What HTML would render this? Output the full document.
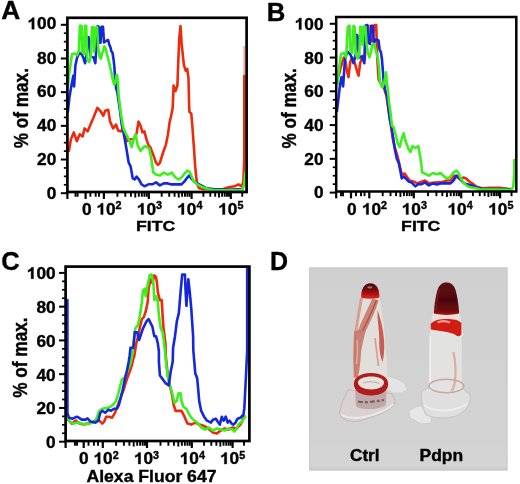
<!DOCTYPE html>
<html><head><meta charset="utf-8"><style>
html,body{margin:0;padding:0;background:#fff;}
svg{display:block;font-family:"Liberation Sans", sans-serif;}
</style></head><body>
<svg width="520" height="484" viewBox="0 0 520 484">
<defs><filter id="gblur" x="0" y="0" width="100%" height="100%"><feGaussianBlur stdDeviation="0.4"/></filter></defs>
<g filter="url(#gblur)">
<rect x="0" y="0" width="520" height="484" fill="#fff"/>
<polyline points="68.9,151.0 70.9,139.2 73.8,132.4 76.8,141.2 79.7,134.3 82.7,136.3 84.6,128.4 87.6,131.4 90.5,124.5 93.5,117.6 97.4,107.8 100.3,110.8 103.3,115.7 105.2,110.8 108.2,109.8 110.1,121.6 113.1,128.4 116.0,124.5 118.0,130.4 120.9,131.4 122.9,128.4 124.8,133.3 126.8,141.2 130.7,139.2 133.6,139.2 136.6,133.3 138.5,121.6 140.5,125.5 142.5,132.4 144.4,131.4 146.4,139.2 148.4,145.1 150.3,147.1 153.3,154.9 156.0,162.7 158.0,164.8 159.9,162.8 162.9,153.0 165.8,145.1 167.8,135.3 169.7,121.6 170.7,117.7 172.7,107.8 173.6,85.6 175.5,91.2 177.4,85.6 178.3,61.4 179.2,39.2 180.5,26.1 181.6,42.9 182.9,55.9 183.9,65.2 185.7,70.7 187.2,68.9 188.5,78.2 189.1,105.0 189.4,111.8 191.3,113.7 192.3,125.5 193.3,139.2 194.3,153.0 195.2,166.7 196.2,176.5 197.2,184.4 199.2,188.3 203.1,189.3 222.7,189.3 228.6,187.3 234.5,186.3 238.4,184.4 241.4,186.3 243.3,182.4 244.3,158.9 244.3,76.0" fill="none" stroke="#ee2a10" stroke-width="2.6" stroke-linejoin="round" stroke-linecap="round"/>
<polyline points="67.9,111.3 69.4,97.4 71.8,83.4 73.3,75.7 74.1,86.5 75.4,65.5 77.1,57.5 79.4,53.0 81.6,54.1 83.3,57.5 85.0,63.2 86.8,54.1 88.5,37.0 89.6,42.7 90.7,56.4 93.6,57.5 95.3,63.2 96.4,48.4 97.5,26.3 98.7,26.8 99.8,42.7 100.5,42.7 101.5,26.8 103.0,26.8 104.0,42.4 106.0,41.0 108.1,40.0 109.3,44.9 110.5,47.4 111.2,51.1 112.4,52.3 113.6,59.8 114.3,66.0 114.9,74.7 115.5,80.8 116.1,88.3 117.3,92.0 119.7,108.5 121.8,125.0 122.9,129.4 124.8,139.2 126.8,151.0 128.7,162.7 130.7,166.7 132.7,178.4 134.6,179.4 136.6,176.5 139.5,180.4 141.5,184.3 144.4,186.3 148.4,184.3 152.3,184.3 156.0,182.4 159.9,185.4 163.8,183.4 167.8,183.4 171.7,184.4 175.6,184.4 181.5,184.4 184.5,181.4 187.4,177.5 189.4,175.5 191.3,178.5 195.2,182.4 199.2,184.4 203.1,186.3 207.0,188.3 214.9,189.3 226.6,189.9 238.4,189.3 242.3,189.9" fill="none" stroke="#1428dc" stroke-width="2.6" stroke-linejoin="round" stroke-linecap="round"/>
<polyline points="67.9,86.5 69.1,74.5 72.0,54.0 74.8,53.5 77.1,55.2 78.8,50.7 79.9,25.7 81.6,25.7 82.2,51.8 83.9,54.1 85.0,25.7 86.2,25.7 87.3,59.8 89.0,62.0 90.7,57.5 91.9,27.4 93.6,27.4 94.1,51.8 95.3,28.0 97.0,26.8 98.1,46.1 99.8,57.5 101.0,58.6 102.1,53.0 103.1,51.1 104.3,46.2 105.6,48.6 106.8,53.6 108.1,58.5 109.3,63.5 110.5,68.5 111.8,74.7 113.0,80.8 114.3,84.6 115.5,80.8 116.7,74.7 117.3,75.9 118.0,84.6 118.7,96.1 120.7,112.6 122.8,125.0 123.8,129.4 126.8,135.3 129.7,141.2 131.7,147.1 133.6,139.2 135.6,134.3 137.6,145.1 140.5,151.0 143.5,147.1 146.4,146.1 149.3,149.0 151.3,158.8 153.3,172.5 156.0,174.5 159.9,175.5 163.8,172.6 167.8,174.6 171.7,172.6 175.6,177.5 178.6,179.5 181.5,177.5 184.5,173.6 187.4,170.6 189.4,171.6 191.3,175.5 193.3,180.5 197.2,184.4 203.1,187.3 209.0,189.3 214.9,190.3 242.3,190.3 244.3,184.4 245.3,172.6" fill="none" stroke="#3cf01e" stroke-width="2.6" stroke-linejoin="round" stroke-linecap="round"/>
<rect x="67.4" y="17.8" width="179.2" height="174.2" fill="none" stroke="#000" stroke-width="2.7"/>
<line x1="60.85" y1="24.80" x2="67.40" y2="24.80" stroke="#000" stroke-width="2"/>
<line x1="63.85" y1="33.22" x2="67.40" y2="33.22" stroke="#000" stroke-width="1.7"/>
<line x1="63.85" y1="41.64" x2="67.40" y2="41.64" stroke="#000" stroke-width="1.7"/>
<line x1="63.85" y1="50.06" x2="67.40" y2="50.06" stroke="#000" stroke-width="1.7"/>
<line x1="60.85" y1="58.48" x2="67.40" y2="58.48" stroke="#000" stroke-width="2"/>
<line x1="63.85" y1="66.90" x2="67.40" y2="66.90" stroke="#000" stroke-width="1.7"/>
<line x1="63.85" y1="75.32" x2="67.40" y2="75.32" stroke="#000" stroke-width="1.7"/>
<line x1="63.85" y1="83.74" x2="67.40" y2="83.74" stroke="#000" stroke-width="1.7"/>
<line x1="60.85" y1="92.16" x2="67.40" y2="92.16" stroke="#000" stroke-width="2"/>
<line x1="63.85" y1="100.58" x2="67.40" y2="100.58" stroke="#000" stroke-width="1.7"/>
<line x1="63.85" y1="109.00" x2="67.40" y2="109.00" stroke="#000" stroke-width="1.7"/>
<line x1="63.85" y1="117.42" x2="67.40" y2="117.42" stroke="#000" stroke-width="1.7"/>
<line x1="60.85" y1="125.84" x2="67.40" y2="125.84" stroke="#000" stroke-width="2"/>
<line x1="63.85" y1="134.26" x2="67.40" y2="134.26" stroke="#000" stroke-width="1.7"/>
<line x1="63.85" y1="142.68" x2="67.40" y2="142.68" stroke="#000" stroke-width="1.7"/>
<line x1="63.85" y1="151.10" x2="67.40" y2="151.10" stroke="#000" stroke-width="1.7"/>
<line x1="60.85" y1="159.52" x2="67.40" y2="159.52" stroke="#000" stroke-width="2"/>
<line x1="63.85" y1="167.94" x2="67.40" y2="167.94" stroke="#000" stroke-width="1.7"/>
<line x1="63.85" y1="176.36" x2="67.40" y2="176.36" stroke="#000" stroke-width="1.7"/>
<line x1="63.85" y1="184.78" x2="67.40" y2="184.78" stroke="#000" stroke-width="1.7"/>
<line x1="60.85" y1="193.20" x2="67.40" y2="193.20" stroke="#000" stroke-width="2"/>
<line x1="67.40" y1="192.00" x2="67.40" y2="198.95" stroke="#000" stroke-width="2.2"/>
<line x1="85.60" y1="192.00" x2="85.60" y2="198.95" stroke="#000" stroke-width="2.2"/>
<line x1="103.90" y1="192.00" x2="103.90" y2="198.95" stroke="#000" stroke-width="2.2"/>
<line x1="148.80" y1="192.00" x2="148.80" y2="198.95" stroke="#000" stroke-width="2.2"/>
<line x1="191.60" y1="192.00" x2="191.60" y2="198.95" stroke="#000" stroke-width="2.2"/>
<line x1="230.80" y1="192.00" x2="230.80" y2="198.95" stroke="#000" stroke-width="2.2"/>
<line x1="75.50" y1="192.00" x2="75.50" y2="196.75" stroke="#000" stroke-width="1.9"/>
<line x1="77.60" y1="192.00" x2="77.60" y2="196.75" stroke="#000" stroke-width="1.9"/>
<line x1="90.40" y1="192.00" x2="90.40" y2="196.75" stroke="#000" stroke-width="1.9"/>
<line x1="95.70" y1="192.00" x2="95.70" y2="196.75" stroke="#000" stroke-width="1.9"/>
<line x1="99.00" y1="192.00" x2="99.00" y2="196.75" stroke="#000" stroke-width="1.9"/>
<line x1="117.42" y1="192.00" x2="117.42" y2="196.75" stroke="#000" stroke-width="1.9"/>
<line x1="125.32" y1="192.00" x2="125.32" y2="196.75" stroke="#000" stroke-width="1.9"/>
<line x1="130.93" y1="192.00" x2="130.93" y2="196.75" stroke="#000" stroke-width="1.9"/>
<line x1="135.28" y1="192.00" x2="135.28" y2="197.55" stroke="#000" stroke-width="1.9"/>
<line x1="138.84" y1="192.00" x2="138.84" y2="196.75" stroke="#000" stroke-width="1.9"/>
<line x1="141.84" y1="192.00" x2="141.84" y2="196.75" stroke="#000" stroke-width="1.9"/>
<line x1="144.45" y1="192.00" x2="144.45" y2="196.75" stroke="#000" stroke-width="1.9"/>
<line x1="146.75" y1="192.00" x2="146.75" y2="196.75" stroke="#000" stroke-width="1.9"/>
<line x1="161.68" y1="192.00" x2="161.68" y2="196.75" stroke="#000" stroke-width="1.9"/>
<line x1="169.22" y1="192.00" x2="169.22" y2="196.75" stroke="#000" stroke-width="1.9"/>
<line x1="174.57" y1="192.00" x2="174.57" y2="196.75" stroke="#000" stroke-width="1.9"/>
<line x1="178.72" y1="192.00" x2="178.72" y2="197.55" stroke="#000" stroke-width="1.9"/>
<line x1="182.10" y1="192.00" x2="182.10" y2="196.75" stroke="#000" stroke-width="1.9"/>
<line x1="184.97" y1="192.00" x2="184.97" y2="196.75" stroke="#000" stroke-width="1.9"/>
<line x1="187.45" y1="192.00" x2="187.45" y2="196.75" stroke="#000" stroke-width="1.9"/>
<line x1="189.64" y1="192.00" x2="189.64" y2="196.75" stroke="#000" stroke-width="1.9"/>
<line x1="203.40" y1="192.00" x2="203.40" y2="196.75" stroke="#000" stroke-width="1.9"/>
<line x1="210.30" y1="192.00" x2="210.30" y2="196.75" stroke="#000" stroke-width="1.9"/>
<line x1="215.20" y1="192.00" x2="215.20" y2="196.75" stroke="#000" stroke-width="1.9"/>
<line x1="219.00" y1="192.00" x2="219.00" y2="197.55" stroke="#000" stroke-width="1.9"/>
<line x1="222.10" y1="192.00" x2="222.10" y2="196.75" stroke="#000" stroke-width="1.9"/>
<line x1="224.73" y1="192.00" x2="224.73" y2="196.75" stroke="#000" stroke-width="1.9"/>
<line x1="227.00" y1="192.00" x2="227.00" y2="196.75" stroke="#000" stroke-width="1.9"/>
<line x1="229.01" y1="192.00" x2="229.01" y2="196.75" stroke="#000" stroke-width="1.9"/>
<line x1="242.24" y1="192.00" x2="242.24" y2="196.75" stroke="#000" stroke-width="1.9"/>
<g transform="translate(56.30,29.13) scale(1.080,1)">
<text font-size="16" font-weight="bold" text-anchor="end" stroke="#000" stroke-width="0.35">00</text>
<path d="M797,0 L516,0 L516,1055 C413,959 292,888 153,842 L153,1096 C226,1120 306,1165 392,1232 C478,1299 537,1377 569,1466 L797,1466 Z" transform="translate(-26.695,0.000) scale(0.007812,-0.007812)" fill="#000" stroke="#000" stroke-width="44.80"/>
</g>
<text transform="translate(56.30,63.51) scale(1.080,1)" font-size="16" font-weight="bold" text-anchor="end" fill="#000" stroke="#000" stroke-width="0.35" >80</text>
<text transform="translate(56.30,97.39) scale(1.080,1)" font-size="16" font-weight="bold" text-anchor="end" fill="#000" stroke="#000" stroke-width="0.35" >60</text>
<text transform="translate(56.30,131.37) scale(1.080,1)" font-size="16" font-weight="bold" text-anchor="end" fill="#000" stroke="#000" stroke-width="0.35" >40</text>
<text transform="translate(56.30,164.85) scale(1.080,1)" font-size="16" font-weight="bold" text-anchor="end" fill="#000" stroke="#000" stroke-width="0.35" >20</text>
<text transform="translate(56.30,198.93) scale(1.080,1)" font-size="16" font-weight="bold" text-anchor="end" fill="#000" stroke="#000" stroke-width="0.35" >0</text>
<text transform="translate(82.00,214.60) scale(1.080,1)" font-size="16" font-weight="bold" text-anchor="start" fill="#000" stroke="#000" stroke-width="0.35" >0</text>
<g transform="translate(96.40,214.60) scale(1.080,1)">
<text x="8.898" font-size="16" font-weight="bold" stroke="#000" stroke-width="0.35">0<tspan font-size="10" dy="-5.2">2</tspan></text>
<path d="M797,0 L516,0 L516,1055 C413,959 292,888 153,842 L153,1096 C226,1120 306,1165 392,1232 C478,1299 537,1377 569,1466 L797,1466 Z" transform="translate(0.000,0.000) scale(0.007812,-0.007812)" fill="#000" stroke="#000" stroke-width="44.80"/>
</g>
<g transform="translate(136.80,214.60) scale(1.080,1)">
<text x="8.898" font-size="16" font-weight="bold" stroke="#000" stroke-width="0.35">0<tspan font-size="10" dy="-5.2">3</tspan></text>
<path d="M797,0 L516,0 L516,1055 C413,959 292,888 153,842 L153,1096 C226,1120 306,1165 392,1232 C478,1299 537,1377 569,1466 L797,1466 Z" transform="translate(0.000,0.000) scale(0.007812,-0.007812)" fill="#000" stroke="#000" stroke-width="44.80"/>
</g>
<g transform="translate(177.20,214.60) scale(1.080,1)">
<text x="8.898" font-size="16" font-weight="bold" stroke="#000" stroke-width="0.35">0<tspan font-size="10" dy="-5.2">4</tspan></text>
<path d="M797,0 L516,0 L516,1055 C413,959 292,888 153,842 L153,1096 C226,1120 306,1165 392,1232 C478,1299 537,1377 569,1466 L797,1466 Z" transform="translate(0.000,0.000) scale(0.007812,-0.007812)" fill="#000" stroke="#000" stroke-width="44.80"/>
</g>
<g transform="translate(218.20,214.60) scale(1.080,1)">
<text x="8.898" font-size="16" font-weight="bold" stroke="#000" stroke-width="0.35">0<tspan font-size="10" dy="-5.2">5</tspan></text>
<path d="M797,0 L516,0 L516,1055 C413,959 292,888 153,842 L153,1096 C226,1120 306,1165 392,1232 C478,1299 537,1377 569,1466 L797,1466 Z" transform="translate(0.000,0.000) scale(0.007812,-0.007812)" fill="#000" stroke="#000" stroke-width="44.80"/>
</g>
<text transform="translate(136.00,231.40) scale(1.140,1)" font-size="15.5" font-weight="bold" text-anchor="start" fill="#000" stroke="#000" stroke-width="0.35" >FITC</text>
<text transform="translate(27.50,148.30) rotate(-90) scale(1,1.130)" font-size="17.2" font-weight="bold" stroke="#000" stroke-width="0.35">% of max.</text>
<polyline points="338.7,76.0 340.4,69.0 342.1,63.2 343.8,57.5 345.5,62.0 347.0,71.0 348.5,77.2 350.1,63.0 351.8,57.5 353.5,59.8 355.2,64.3 357.0,71.0 358.6,75.7 360.1,63.3 361.7,58.6 362.9,55.9 364.8,59.6 366.5,25.7 368.3,25.7 368.8,42.7 370.5,40.5 372.2,41.0 374.5,25.1 376.2,25.1 376.8,42.7 377.3,58.6 378.0,70.0 378.7,79.8 381.0,84.0 384.0,88.0 386.5,96.0 388.5,110.0 390.5,122.0 392.8,139.2 394.8,147.1 397.7,156.9 401.7,174.5 404.6,173.5 409.5,180.4 413.4,181.4 417.4,183.3 425.0,180.5 428.9,183.4 436.8,182.4 442.7,182.0 446.6,180.5 450.5,180.5 454.4,175.6 457.4,177.5 460.3,179.5 463.3,177.5 466.2,178.5 469.2,181.5 472.1,183.4 476.0,186.4 481.9,188.3 489.8,187.9 499.6,187.9 511.4,189.3" fill="none" stroke="#ee2a10" stroke-width="2.6" stroke-linejoin="round" stroke-linecap="round"/>
<polyline points="336.9,111.3 338.4,98.9 340.0,85.0 341.5,77.2 343.1,86.5 344.6,64.8 345.5,56.4 347.8,51.8 350.1,54.1 351.8,57.5 353.5,63.2 355.8,54.1 356.9,34.8 358.0,37.0 359.2,57.5 362.0,56.4 364.3,63.2 365.4,25.7 367.1,25.1 368.3,42.7 370.0,43.9 371.1,25.7 372.8,25.7 373.9,42.7 376.2,39.3 378.5,40.5 379.6,49.5 380.8,51.8 381.9,58.6 383.0,72.4 383.6,81.0 384.9,88.5 385.5,91.0 387.3,97.2 388.6,109.6 389.8,119.5 391.9,129.4 392.8,135.3 394.8,149.0 396.8,158.8 398.7,162.7 400.7,172.5 401.7,178.4 403.6,176.5 405.6,178.4 408.5,181.4 411.5,182.4 413.4,184.3 415.4,186.3 418.3,184.3 421.3,184.3 425.0,182.4 428.9,185.4 432.9,183.4 436.8,184.4 440.7,183.4 444.6,183.4 450.5,183.4 453.5,180.5 456.4,175.6 458.4,176.5 461.3,180.5 464.3,183.4 468.2,184.4 472.1,185.4 476.0,187.3 481.9,188.7 511.4,189.3" fill="none" stroke="#1428dc" stroke-width="2.6" stroke-linejoin="round" stroke-linecap="round"/>
<polyline points="337.7,83.4 338.7,71.1 341.0,54.1 343.8,53.0 346.1,57.5 347.8,26.8 349.5,25.7 350.6,51.8 352.3,53.0 353.5,25.7 354.6,26.8 355.8,54.1 357.5,58.6 359.2,55.2 360.3,26.8 361.4,26.8 362.6,45.0 363.7,26.8 365.4,26.8 366.5,42.7 367.7,51.8 369.4,57.5 371.1,51.8 372.2,45.0 373.9,43.9 375.6,49.5 376.8,54.1 377.9,58.6 379.0,66.6 379.9,82.3 382.4,87.3 384.3,82.3 386.1,72.4 386.7,81.0 388.0,91.0 389.2,103.4 390.4,112.0 391.9,125.5 393.8,127.5 395.8,135.3 397.7,143.1 399.7,147.1 401.7,139.2 403.6,133.3 405.6,141.2 408.5,149.0 410.5,152.0 412.5,146.1 415.4,148.0 418.3,146.1 420.3,156.9 422.3,172.5 425.0,173.6 428.9,175.6 432.9,173.0 436.8,174.2 440.7,173.0 444.6,176.9 447.6,178.5 450.5,176.5 453.5,172.6 456.4,170.7 458.4,172.6 460.3,177.5 463.3,182.4 466.2,185.4 470.1,187.3 476.0,188.3 480.0,189.3 511.4,189.9 513.3,186.4 514.3,172.6 514.3,160.0" fill="none" stroke="#3cf01e" stroke-width="2.6" stroke-linejoin="round" stroke-linecap="round"/>
<rect x="336.2" y="17.0" width="180.09999999999997" height="174.5" fill="none" stroke="#000" stroke-width="2.5"/>
<line x1="329.75" y1="23.80" x2="336.20" y2="23.80" stroke="#000" stroke-width="2"/>
<line x1="332.75" y1="32.24" x2="336.20" y2="32.24" stroke="#000" stroke-width="1.7"/>
<line x1="332.75" y1="40.68" x2="336.20" y2="40.68" stroke="#000" stroke-width="1.7"/>
<line x1="332.75" y1="49.12" x2="336.20" y2="49.12" stroke="#000" stroke-width="1.7"/>
<line x1="329.75" y1="57.56" x2="336.20" y2="57.56" stroke="#000" stroke-width="2"/>
<line x1="332.75" y1="66.00" x2="336.20" y2="66.00" stroke="#000" stroke-width="1.7"/>
<line x1="332.75" y1="74.44" x2="336.20" y2="74.44" stroke="#000" stroke-width="1.7"/>
<line x1="332.75" y1="82.88" x2="336.20" y2="82.88" stroke="#000" stroke-width="1.7"/>
<line x1="329.75" y1="91.32" x2="336.20" y2="91.32" stroke="#000" stroke-width="2"/>
<line x1="332.75" y1="99.76" x2="336.20" y2="99.76" stroke="#000" stroke-width="1.7"/>
<line x1="332.75" y1="108.20" x2="336.20" y2="108.20" stroke="#000" stroke-width="1.7"/>
<line x1="332.75" y1="116.64" x2="336.20" y2="116.64" stroke="#000" stroke-width="1.7"/>
<line x1="329.75" y1="125.08" x2="336.20" y2="125.08" stroke="#000" stroke-width="2"/>
<line x1="332.75" y1="133.52" x2="336.20" y2="133.52" stroke="#000" stroke-width="1.7"/>
<line x1="332.75" y1="141.96" x2="336.20" y2="141.96" stroke="#000" stroke-width="1.7"/>
<line x1="332.75" y1="150.40" x2="336.20" y2="150.40" stroke="#000" stroke-width="1.7"/>
<line x1="329.75" y1="158.84" x2="336.20" y2="158.84" stroke="#000" stroke-width="2"/>
<line x1="332.75" y1="167.28" x2="336.20" y2="167.28" stroke="#000" stroke-width="1.7"/>
<line x1="332.75" y1="175.72" x2="336.20" y2="175.72" stroke="#000" stroke-width="1.7"/>
<line x1="332.75" y1="184.16" x2="336.20" y2="184.16" stroke="#000" stroke-width="1.7"/>
<line x1="329.75" y1="192.60" x2="336.20" y2="192.60" stroke="#000" stroke-width="2"/>
<line x1="336.20" y1="191.50" x2="336.20" y2="198.35" stroke="#000" stroke-width="2.2"/>
<line x1="351.00" y1="191.50" x2="351.00" y2="198.35" stroke="#000" stroke-width="2.2"/>
<line x1="369.30" y1="191.50" x2="369.30" y2="198.35" stroke="#000" stroke-width="2.2"/>
<line x1="413.80" y1="191.50" x2="413.80" y2="198.35" stroke="#000" stroke-width="2.2"/>
<line x1="461.20" y1="191.50" x2="461.20" y2="198.35" stroke="#000" stroke-width="2.2"/>
<line x1="500.10" y1="191.50" x2="500.10" y2="198.35" stroke="#000" stroke-width="2.2"/>
<line x1="341.00" y1="191.50" x2="341.00" y2="196.15" stroke="#000" stroke-width="1.9"/>
<line x1="343.00" y1="191.50" x2="343.00" y2="196.15" stroke="#000" stroke-width="1.9"/>
<line x1="356.00" y1="191.50" x2="356.00" y2="196.15" stroke="#000" stroke-width="1.9"/>
<line x1="361.00" y1="191.50" x2="361.00" y2="196.15" stroke="#000" stroke-width="1.9"/>
<line x1="364.50" y1="191.50" x2="364.50" y2="196.15" stroke="#000" stroke-width="1.9"/>
<line x1="382.70" y1="191.50" x2="382.70" y2="196.15" stroke="#000" stroke-width="1.9"/>
<line x1="390.53" y1="191.50" x2="390.53" y2="196.15" stroke="#000" stroke-width="1.9"/>
<line x1="396.09" y1="191.50" x2="396.09" y2="196.15" stroke="#000" stroke-width="1.9"/>
<line x1="400.40" y1="191.50" x2="400.40" y2="196.95" stroke="#000" stroke-width="1.9"/>
<line x1="403.93" y1="191.50" x2="403.93" y2="196.15" stroke="#000" stroke-width="1.9"/>
<line x1="406.91" y1="191.50" x2="406.91" y2="196.15" stroke="#000" stroke-width="1.9"/>
<line x1="409.49" y1="191.50" x2="409.49" y2="196.15" stroke="#000" stroke-width="1.9"/>
<line x1="411.76" y1="191.50" x2="411.76" y2="196.15" stroke="#000" stroke-width="1.9"/>
<line x1="428.07" y1="191.50" x2="428.07" y2="196.15" stroke="#000" stroke-width="1.9"/>
<line x1="436.42" y1="191.50" x2="436.42" y2="196.15" stroke="#000" stroke-width="1.9"/>
<line x1="442.34" y1="191.50" x2="442.34" y2="196.15" stroke="#000" stroke-width="1.9"/>
<line x1="446.93" y1="191.50" x2="446.93" y2="196.95" stroke="#000" stroke-width="1.9"/>
<line x1="450.68" y1="191.50" x2="450.68" y2="196.15" stroke="#000" stroke-width="1.9"/>
<line x1="453.86" y1="191.50" x2="453.86" y2="196.15" stroke="#000" stroke-width="1.9"/>
<line x1="456.61" y1="191.50" x2="456.61" y2="196.15" stroke="#000" stroke-width="1.9"/>
<line x1="459.03" y1="191.50" x2="459.03" y2="196.15" stroke="#000" stroke-width="1.9"/>
<line x1="472.91" y1="191.50" x2="472.91" y2="196.15" stroke="#000" stroke-width="1.9"/>
<line x1="479.76" y1="191.50" x2="479.76" y2="196.15" stroke="#000" stroke-width="1.9"/>
<line x1="484.62" y1="191.50" x2="484.62" y2="196.15" stroke="#000" stroke-width="1.9"/>
<line x1="488.39" y1="191.50" x2="488.39" y2="196.95" stroke="#000" stroke-width="1.9"/>
<line x1="491.47" y1="191.50" x2="491.47" y2="196.15" stroke="#000" stroke-width="1.9"/>
<line x1="494.07" y1="191.50" x2="494.07" y2="196.15" stroke="#000" stroke-width="1.9"/>
<line x1="496.33" y1="191.50" x2="496.33" y2="196.15" stroke="#000" stroke-width="1.9"/>
<line x1="498.32" y1="191.50" x2="498.32" y2="196.15" stroke="#000" stroke-width="1.9"/>
<line x1="511.54" y1="191.50" x2="511.54" y2="196.15" stroke="#000" stroke-width="1.9"/>
<g transform="translate(323.50,29.53) scale(1.080,1)">
<text font-size="16" font-weight="bold" text-anchor="end" stroke="#000" stroke-width="0.35">00</text>
<path d="M797,0 L516,0 L516,1055 C413,959 292,888 153,842 L153,1096 C226,1120 306,1165 392,1232 C478,1299 537,1377 569,1466 L797,1466 Z" transform="translate(-26.695,0.000) scale(0.007812,-0.007812)" fill="#000" stroke="#000" stroke-width="44.80"/>
</g>
<text transform="translate(323.50,63.79) scale(1.080,1)" font-size="16" font-weight="bold" text-anchor="end" fill="#000" stroke="#000" stroke-width="0.35" >80</text>
<text transform="translate(323.50,97.05) scale(1.080,1)" font-size="16" font-weight="bold" text-anchor="end" fill="#000" stroke="#000" stroke-width="0.35" >60</text>
<text transform="translate(323.50,130.81) scale(1.080,1)" font-size="16" font-weight="bold" text-anchor="end" fill="#000" stroke="#000" stroke-width="0.35" >40</text>
<text transform="translate(323.50,164.57) scale(1.080,1)" font-size="16" font-weight="bold" text-anchor="end" fill="#000" stroke="#000" stroke-width="0.35" >20</text>
<text transform="translate(323.50,198.33) scale(1.080,1)" font-size="16" font-weight="bold" text-anchor="end" fill="#000" stroke="#000" stroke-width="0.35" >0</text>
<text transform="translate(347.10,214.60) scale(1.080,1)" font-size="16" font-weight="bold" text-anchor="start" fill="#000" stroke="#000" stroke-width="0.35" >0</text>
<g transform="translate(361.90,214.60) scale(1.080,1)">
<text x="8.898" font-size="16" font-weight="bold" stroke="#000" stroke-width="0.35">0<tspan font-size="10" dy="-5.2">2</tspan></text>
<path d="M797,0 L516,0 L516,1055 C413,959 292,888 153,842 L153,1096 C226,1120 306,1165 392,1232 C478,1299 537,1377 569,1466 L797,1466 Z" transform="translate(0.000,0.000) scale(0.007812,-0.007812)" fill="#000" stroke="#000" stroke-width="44.80"/>
</g>
<g transform="translate(401.70,214.60) scale(1.080,1)">
<text x="8.898" font-size="16" font-weight="bold" stroke="#000" stroke-width="0.35">0<tspan font-size="10" dy="-5.2">3</tspan></text>
<path d="M797,0 L516,0 L516,1055 C413,959 292,888 153,842 L153,1096 C226,1120 306,1165 392,1232 C478,1299 537,1377 569,1466 L797,1466 Z" transform="translate(0.000,0.000) scale(0.007812,-0.007812)" fill="#000" stroke="#000" stroke-width="44.80"/>
</g>
<g transform="translate(447.50,214.60) scale(1.080,1)">
<text x="8.898" font-size="16" font-weight="bold" stroke="#000" stroke-width="0.35">0<tspan font-size="10" dy="-5.2">4</tspan></text>
<path d="M797,0 L516,0 L516,1055 C413,959 292,888 153,842 L153,1096 C226,1120 306,1165 392,1232 C478,1299 537,1377 569,1466 L797,1466 Z" transform="translate(0.000,0.000) scale(0.007812,-0.007812)" fill="#000" stroke="#000" stroke-width="44.80"/>
</g>
<g transform="translate(488.20,214.60) scale(1.080,1)">
<text x="8.898" font-size="16" font-weight="bold" stroke="#000" stroke-width="0.35">0<tspan font-size="10" dy="-5.2">5</tspan></text>
<path d="M797,0 L516,0 L516,1055 C413,959 292,888 153,842 L153,1096 C226,1120 306,1165 392,1232 C478,1299 537,1377 569,1466 L797,1466 Z" transform="translate(0.000,0.000) scale(0.007812,-0.007812)" fill="#000" stroke="#000" stroke-width="44.80"/>
</g>
<text transform="translate(401.10,231.40) scale(1.140,1)" font-size="15.5" font-weight="bold" text-anchor="start" fill="#000" stroke="#000" stroke-width="0.35" >FITC</text>
<text transform="translate(296.20,148.50) rotate(-90) scale(1,1.130)" font-size="17.2" font-weight="bold" stroke="#000" stroke-width="0.35">% of max.</text>
<polyline points="66.9,418.7 71.8,423.6 75.8,420.6 79.7,423.6 83.6,424.5 87.5,423.6 91.5,422.6 95.4,420.6 99.3,420.6 102.3,423.6 104.2,421.6 106.2,416.7 109.1,416.7 112.1,417.7 115.0,412.8 117.9,404.9 120.9,397.1 123.8,389.2 126.8,379.4 129.7,371.6 131.7,365.7 133.6,357.8 134.3,356.0 136.2,343.8 138.1,336.2 140.0,326.7 141.9,319.1 143.8,317.2 145.7,311.5 147.7,302.0 148.6,288.7 150.5,279.2 152.4,283.0 154.3,275.4 156.0,277.0 157.0,283.0 157.9,292.5 159.8,300.1 161.7,300.1 162.7,317.2 163.6,328.6 165.5,343.8 165.8,356.0 167.8,375.5 169.7,385.3 171.7,393.2 173.7,405.0 175.6,410.9 181.5,410.9 184.5,416.7 187.4,423.6 191.3,424.6 195.3,422.6 199.2,424.6 203.1,425.6 207.0,427.5 212.9,432.4 216.9,433.4 220.8,430.5 224.7,428.5 228.6,429.5 232.6,427.5 236.5,428.5 240.4,424.6 244.3,416.7" fill="none" stroke="#ee2a10" stroke-width="2.6" stroke-linejoin="round" stroke-linecap="round"/>
<polyline points="66.9,413.0 66.9,416.7 69.9,421.6 73.8,423.6 77.7,422.6 81.7,423.6 85.6,424.1 89.5,423.6 93.4,422.6 96.4,418.7 99.3,410.8 102.3,408.8 106.2,407.9 110.1,406.9 113.0,404.9 116.0,401.0 117.9,395.1 119.9,387.3 121.9,379.4 124.8,377.5 126.8,371.6 129.7,365.7 131.7,357.8 133.4,343.8 135.3,328.6 138.1,324.8 140.0,315.3 141.9,302.0 142.9,290.6 144.8,288.7 145.7,296.3 147.7,284.9 149.6,275.4 151.5,274.5 153.4,283.0 154.3,300.0 156.0,296.3 157.9,302.0 158.9,315.3 160.8,328.6 162.7,332.4 164.6,347.7 166.8,369.6 168.8,383.4 170.7,387.3 172.7,395.2 174.6,403.0 176.6,401.0 178.6,393.2 180.5,393.2 181.5,401.0 183.5,406.9 186.4,408.9 188.4,412.8 191.3,417.7 193.3,419.7 196.2,421.7 198.2,423.6 201.2,427.5 205.1,429.5 209.0,427.5 212.9,430.5 216.9,428.5 220.8,429.5 224.7,430.5 228.6,428.5 232.6,429.5 234.5,431.5 236.5,428.5 238.4,424.6 242.4,420.7 245.3,416.7" fill="none" stroke="#3cf01e" stroke-width="2.6" stroke-linejoin="round" stroke-linecap="round"/>
<polyline points="67.4,300.0 67.4,412.8 68.9,417.7 72.8,418.7 76.8,416.7 78.7,417.7 81.7,419.6 85.6,419.6 87.5,418.3 90.5,421.6 95.4,422.6 98.3,420.6 100.3,412.8 102.3,410.8 105.2,412.8 108.1,409.8 111.1,410.8 114.0,408.8 117.0,408.8 118.9,404.9 120.9,397.1 122.8,389.2 124.8,379.4 126.8,371.6 128.7,361.8 129.6,356.0 130.5,347.7 133.4,347.7 134.7,332.4 137.2,332.4 139.1,340.0 141.0,334.3 142.9,328.6 144.8,324.8 146.7,321.0 148.6,319.1 150.5,322.9 152.4,326.7 154.3,336.2 156.0,336.2 157.0,340.0 157.9,343.8 158.9,351.5 158.9,361.8 159.9,375.5 162.9,379.4 165.8,383.4 168.8,385.3 170.7,371.6 172.7,361.8 173.1,347.7 175.0,336.2 176.9,321.0 178.8,313.4 180.7,290.6 182.2,274.5 184.9,274.5 185.5,288.7 186.4,305.8 187.4,290.6 188.3,279.2 189.8,292.5 191.2,307.7 192.1,321.0 193.1,336.2 193.3,350.0 194.3,361.8 195.3,373.6 196.2,375.5 197.2,378.5 198.2,389.3 199.2,401.0 201.2,410.9 204.1,416.7 207.0,420.7 211.0,422.6 212.9,419.7 215.9,418.7 217.8,421.7 219.8,424.6 221.8,416.7 223.7,420.7 225.7,416.7 227.7,422.6 229.6,420.7 231.6,423.6 233.5,424.6 235.5,422.6 237.5,418.7 240.4,417.7 243.4,414.8 244.3,408.9 245.3,389.3 246.3,369.6 247.2,350.0 247.2,267.0" fill="none" stroke="#1428dc" stroke-width="2.6" stroke-linejoin="round" stroke-linecap="round"/>
<rect x="65.6" y="266.6" width="183.8" height="174.39999999999998" fill="none" stroke="#000" stroke-width="2.7"/>
<line x1="59.05" y1="272.90" x2="65.60" y2="272.90" stroke="#000" stroke-width="2"/>
<line x1="62.05" y1="281.34" x2="65.60" y2="281.34" stroke="#000" stroke-width="1.7"/>
<line x1="62.05" y1="289.78" x2="65.60" y2="289.78" stroke="#000" stroke-width="1.7"/>
<line x1="62.05" y1="298.22" x2="65.60" y2="298.22" stroke="#000" stroke-width="1.7"/>
<line x1="59.05" y1="306.66" x2="65.60" y2="306.66" stroke="#000" stroke-width="2"/>
<line x1="62.05" y1="315.10" x2="65.60" y2="315.10" stroke="#000" stroke-width="1.7"/>
<line x1="62.05" y1="323.54" x2="65.60" y2="323.54" stroke="#000" stroke-width="1.7"/>
<line x1="62.05" y1="331.98" x2="65.60" y2="331.98" stroke="#000" stroke-width="1.7"/>
<line x1="59.05" y1="340.42" x2="65.60" y2="340.42" stroke="#000" stroke-width="2"/>
<line x1="62.05" y1="348.86" x2="65.60" y2="348.86" stroke="#000" stroke-width="1.7"/>
<line x1="62.05" y1="357.30" x2="65.60" y2="357.30" stroke="#000" stroke-width="1.7"/>
<line x1="62.05" y1="365.74" x2="65.60" y2="365.74" stroke="#000" stroke-width="1.7"/>
<line x1="59.05" y1="374.18" x2="65.60" y2="374.18" stroke="#000" stroke-width="2"/>
<line x1="62.05" y1="382.62" x2="65.60" y2="382.62" stroke="#000" stroke-width="1.7"/>
<line x1="62.05" y1="391.06" x2="65.60" y2="391.06" stroke="#000" stroke-width="1.7"/>
<line x1="62.05" y1="399.50" x2="65.60" y2="399.50" stroke="#000" stroke-width="1.7"/>
<line x1="59.05" y1="407.94" x2="65.60" y2="407.94" stroke="#000" stroke-width="2"/>
<line x1="62.05" y1="416.38" x2="65.60" y2="416.38" stroke="#000" stroke-width="1.7"/>
<line x1="62.05" y1="424.82" x2="65.60" y2="424.82" stroke="#000" stroke-width="1.7"/>
<line x1="62.05" y1="433.26" x2="65.60" y2="433.26" stroke="#000" stroke-width="1.7"/>
<line x1="59.05" y1="441.70" x2="65.60" y2="441.70" stroke="#000" stroke-width="2"/>
<line x1="65.60" y1="441.00" x2="65.60" y2="447.95" stroke="#000" stroke-width="2.2"/>
<line x1="83.70" y1="441.00" x2="83.70" y2="447.95" stroke="#000" stroke-width="2.2"/>
<line x1="102.80" y1="441.00" x2="102.80" y2="447.95" stroke="#000" stroke-width="2.2"/>
<line x1="147.00" y1="441.00" x2="147.00" y2="447.95" stroke="#000" stroke-width="2.2"/>
<line x1="191.80" y1="441.00" x2="191.80" y2="447.95" stroke="#000" stroke-width="2.2"/>
<line x1="232.60" y1="441.00" x2="232.60" y2="447.95" stroke="#000" stroke-width="2.2"/>
<line x1="74.90" y1="441.00" x2="74.90" y2="445.75" stroke="#000" stroke-width="1.9"/>
<line x1="77.00" y1="441.00" x2="77.00" y2="445.75" stroke="#000" stroke-width="1.9"/>
<line x1="88.50" y1="441.00" x2="88.50" y2="445.75" stroke="#000" stroke-width="1.9"/>
<line x1="93.90" y1="441.00" x2="93.90" y2="445.75" stroke="#000" stroke-width="1.9"/>
<line x1="98.00" y1="441.00" x2="98.00" y2="445.75" stroke="#000" stroke-width="1.9"/>
<line x1="116.11" y1="441.00" x2="116.11" y2="445.75" stroke="#000" stroke-width="1.9"/>
<line x1="123.89" y1="441.00" x2="123.89" y2="445.75" stroke="#000" stroke-width="1.9"/>
<line x1="129.41" y1="441.00" x2="129.41" y2="445.75" stroke="#000" stroke-width="1.9"/>
<line x1="133.69" y1="441.00" x2="133.69" y2="446.55" stroke="#000" stroke-width="1.9"/>
<line x1="137.19" y1="441.00" x2="137.19" y2="445.75" stroke="#000" stroke-width="1.9"/>
<line x1="140.15" y1="441.00" x2="140.15" y2="445.75" stroke="#000" stroke-width="1.9"/>
<line x1="142.72" y1="441.00" x2="142.72" y2="445.75" stroke="#000" stroke-width="1.9"/>
<line x1="144.98" y1="441.00" x2="144.98" y2="445.75" stroke="#000" stroke-width="1.9"/>
<line x1="160.49" y1="441.00" x2="160.49" y2="445.75" stroke="#000" stroke-width="1.9"/>
<line x1="168.38" y1="441.00" x2="168.38" y2="445.75" stroke="#000" stroke-width="1.9"/>
<line x1="173.97" y1="441.00" x2="173.97" y2="445.75" stroke="#000" stroke-width="1.9"/>
<line x1="178.31" y1="441.00" x2="178.31" y2="446.55" stroke="#000" stroke-width="1.9"/>
<line x1="181.86" y1="441.00" x2="181.86" y2="445.75" stroke="#000" stroke-width="1.9"/>
<line x1="184.86" y1="441.00" x2="184.86" y2="445.75" stroke="#000" stroke-width="1.9"/>
<line x1="187.46" y1="441.00" x2="187.46" y2="445.75" stroke="#000" stroke-width="1.9"/>
<line x1="189.75" y1="441.00" x2="189.75" y2="445.75" stroke="#000" stroke-width="1.9"/>
<line x1="204.08" y1="441.00" x2="204.08" y2="445.75" stroke="#000" stroke-width="1.9"/>
<line x1="211.27" y1="441.00" x2="211.27" y2="445.75" stroke="#000" stroke-width="1.9"/>
<line x1="216.36" y1="441.00" x2="216.36" y2="445.75" stroke="#000" stroke-width="1.9"/>
<line x1="220.32" y1="441.00" x2="220.32" y2="446.55" stroke="#000" stroke-width="1.9"/>
<line x1="223.55" y1="441.00" x2="223.55" y2="445.75" stroke="#000" stroke-width="1.9"/>
<line x1="226.28" y1="441.00" x2="226.28" y2="445.75" stroke="#000" stroke-width="1.9"/>
<line x1="228.65" y1="441.00" x2="228.65" y2="445.75" stroke="#000" stroke-width="1.9"/>
<line x1="230.73" y1="441.00" x2="230.73" y2="445.75" stroke="#000" stroke-width="1.9"/>
<line x1="244.04" y1="441.00" x2="244.04" y2="445.75" stroke="#000" stroke-width="1.9"/>
<g transform="translate(55.60,278.73) scale(1.080,1)">
<text font-size="16" font-weight="bold" text-anchor="end" stroke="#000" stroke-width="0.35">00</text>
<path d="M797,0 L516,0 L516,1055 C413,959 292,888 153,842 L153,1096 C226,1120 306,1165 392,1232 C478,1299 537,1377 569,1466 L797,1466 Z" transform="translate(-26.695,0.000) scale(0.007812,-0.007812)" fill="#000" stroke="#000" stroke-width="44.80"/>
</g>
<text transform="translate(55.60,313.09) scale(1.080,1)" font-size="16" font-weight="bold" text-anchor="end" fill="#000" stroke="#000" stroke-width="0.35" >80</text>
<text transform="translate(55.60,346.75) scale(1.080,1)" font-size="16" font-weight="bold" text-anchor="end" fill="#000" stroke="#000" stroke-width="0.35" >60</text>
<text transform="translate(55.60,381.11) scale(1.080,1)" font-size="16" font-weight="bold" text-anchor="end" fill="#000" stroke="#000" stroke-width="0.35" >40</text>
<text transform="translate(55.60,414.17) scale(1.080,1)" font-size="16" font-weight="bold" text-anchor="end" fill="#000" stroke="#000" stroke-width="0.35" >20</text>
<text transform="translate(55.60,448.43) scale(1.080,1)" font-size="16" font-weight="bold" text-anchor="end" fill="#000" stroke="#000" stroke-width="0.35" >0</text>
<text transform="translate(78.90,464.00) scale(1.080,1)" font-size="16" font-weight="bold" text-anchor="start" fill="#000" stroke="#000" stroke-width="0.35" >0</text>
<g transform="translate(93.50,464.00) scale(1.080,1)">
<text x="8.898" font-size="16" font-weight="bold" stroke="#000" stroke-width="0.35">0<tspan font-size="10" dy="-5.2">2</tspan></text>
<path d="M797,0 L516,0 L516,1055 C413,959 292,888 153,842 L153,1096 C226,1120 306,1165 392,1232 C478,1299 537,1377 569,1466 L797,1466 Z" transform="translate(0.000,0.000) scale(0.007812,-0.007812)" fill="#000" stroke="#000" stroke-width="44.80"/>
</g>
<g transform="translate(133.90,464.00) scale(1.080,1)">
<text x="8.898" font-size="16" font-weight="bold" stroke="#000" stroke-width="0.35">0<tspan font-size="10" dy="-5.2">3</tspan></text>
<path d="M797,0 L516,0 L516,1055 C413,959 292,888 153,842 L153,1096 C226,1120 306,1165 392,1232 C478,1299 537,1377 569,1466 L797,1466 Z" transform="translate(0.000,0.000) scale(0.007812,-0.007812)" fill="#000" stroke="#000" stroke-width="44.80"/>
</g>
<g transform="translate(179.70,464.00) scale(1.080,1)">
<text x="8.898" font-size="16" font-weight="bold" stroke="#000" stroke-width="0.35">0<tspan font-size="10" dy="-5.2">4</tspan></text>
<path d="M797,0 L516,0 L516,1055 C413,959 292,888 153,842 L153,1096 C226,1120 306,1165 392,1232 C478,1299 537,1377 569,1466 L797,1466 Z" transform="translate(0.000,0.000) scale(0.007812,-0.007812)" fill="#000" stroke="#000" stroke-width="44.80"/>
</g>
<g transform="translate(220.00,464.00) scale(1.080,1)">
<text x="8.898" font-size="16" font-weight="bold" stroke="#000" stroke-width="0.35">0<tspan font-size="10" dy="-5.2">5</tspan></text>
<path d="M797,0 L516,0 L516,1055 C413,959 292,888 153,842 L153,1096 C226,1120 306,1165 392,1232 C478,1299 537,1377 569,1466 L797,1466 Z" transform="translate(0.000,0.000) scale(0.007812,-0.007812)" fill="#000" stroke="#000" stroke-width="44.80"/>
</g>
<text transform="translate(86.50,481.50) scale(1.100,1)" font-size="16" font-weight="bold" text-anchor="start" fill="#000" stroke="#000" stroke-width="0.35" >Alexa Fluor 647</text>
<text transform="translate(27.30,397.70) rotate(-90) scale(1,1.130)" font-size="17.2" font-weight="bold" stroke="#000" stroke-width="0.35">% of max.</text>
<line x1="244.3" y1="76" x2="244.3" y2="46" stroke="#ee2a10" stroke-width="2" opacity="0.4"/>
<text transform="translate(1.20,19.30) scale(1.050,1)" font-size="25" font-weight="bold" text-anchor="start" fill="#000" stroke="#000" stroke-width="0.35" >A</text>
<text transform="translate(266.80,20.80) scale(1.030,1)" font-size="25" font-weight="bold" text-anchor="start" fill="#000" stroke="#000" stroke-width="0.35" >B</text>
<text transform="translate(1.20,269.50) scale(1.020,1)" font-size="25" font-weight="bold" text-anchor="start" fill="#000" stroke="#000" stroke-width="0.35" >C</text>
<text transform="translate(270.00,269.50)" font-size="25" font-weight="bold" text-anchor="start" fill="#000" stroke="#000" stroke-width="0.35" >D</text>
<g id="photo">
<defs>
 <linearGradient id="bg" x1="0" y1="0" x2="0" y2="1">
  <stop offset="0" stop-color="#d0d0d0"/>
  <stop offset="0.6" stop-color="#d2d2d2"/>
  <stop offset="1" stop-color="#d3d3d3"/>
 </linearGradient>
 <linearGradient id="tipC" x1="0" y1="0" x2="0" y2="1">
  <stop offset="0" stop-color="#4a0c0c"/>
  <stop offset="0.35" stop-color="#640808"/>
  <stop offset="0.75" stop-color="#c41010"/>
  <stop offset="1" stop-color="#d43020"/>
 </linearGradient>
 <linearGradient id="tipP" x1="0" y1="0" x2="0" y2="1">
  <stop offset="0" stop-color="#5e0a0e"/>
  <stop offset="0.55" stop-color="#4c0608"/>
  <stop offset="0.85" stop-color="#6a0a0e"/>
  <stop offset="1" stop-color="#a81812"/>
 </linearGradient>
 <filter id="soft" x="-10%" y="-10%" width="120%" height="120%"><feGaussianBlur stdDeviation="0.6"/></filter>
</defs>
<rect x="309" y="267.5" width="198.5" height="203" fill="url(#bg)"/>
<rect x="309.6" y="268.1" width="197.3" height="201.8" fill="none" stroke="#cacaca" stroke-width="1.2"/>
<g filter="url(#soft)">
<!-- Ctrl hinge tab right -->
<path d="M387,376 L398,379 L405,384 L407,390 L402,393 L393,393 L388,390 Z" fill="#e4e4e4" stroke="#d0d0d0" stroke-width="1"/>
<!-- Ctrl base -->
<path d="M339.3,414 C341,405 345,395 348.6,389.7 L391.4,393.5 C393.5,396 395,399 395,402.8 C392,408 386,412 380.2,414 C372,417 364,420 357.9,421.4 C350,422 343,420.5 339.3,414 Z" fill="#dad2d2" stroke="#c6bcbc" stroke-width="1.2"/>
<path d="M341,414.5 C348,418.5 360,419 374,414.5 C382,412 389,409 393,404" fill="none" stroke="#ece8e8" stroke-width="2"/>
<!-- band below ring -->
<path d="M355,390 L386.5,390 L386,405 C380,410 362,410.5 356,406.5 Z" fill="#c0a8a8"/>
<path d="M358,401.5 C364,403 372,402 384,400" fill="none" stroke="#7a6262" stroke-width="2.2" stroke-dasharray="5 2 3 2"/>
<!-- Ctrl tube body -->
<path d="M361.2,297 L357.9,312.8 L355,325.8 L353.2,360 L353.3,390 L388,390 L386.8,360 L383.9,325.8 L381,307.2 L379.3,297 Z" fill="#e2deda"/>
<!-- left edge salmon -->
<path d="M361.5,298 C359.5,310 357,322 355.5,335 C354.5,348 354.2,362 355,378" fill="none" stroke="#d4988a" stroke-width="3" opacity="0.9"/>
<!-- diagonal band -->
<path d="M372.5,298.5 L378.5,300.5 C376,310 371,320 366,330.5 L357,333.5 C361,322 367,310 372.5,298.5 Z" fill="#c47464" opacity="0.85"/>
<path d="M376.5,300 C373,310 368,320 362,332" fill="none" stroke="#a84a3c" stroke-width="1.4" opacity="0.8"/>
<!-- lower left broad band -->
<path d="M354,331 L366,330 C364,337 362,345 361,353 C360.5,361 360,369 358,377 L354.2,377 L353.6,360 L353.8,345 Z" fill="#c47868" opacity="0.9"/>
<path d="M357,340 C358,348 357.5,356 356.5,364" fill="none" stroke="#e8c0b0" stroke-width="1.5" opacity="0.7"/>
<!-- right streak -->
<path d="M377.5,310 C380.5,318 383,328 384,340 C384.6,350 384,356 382.5,362 C380.5,357 379,350 379.3,340 C379.4,330 377,320 377.5,310 Z" fill="#c2463e" opacity="0.85"/>
<path d="M375,338 C376,346 377,354 378.5,366" fill="none" stroke="#d08070" stroke-width="1.6" opacity="0.7"/>
<!-- tip -->
<path d="M361.2,297.8 C360.8,289 364.5,283.2 370.4,283.2 C376.3,283.2 379.7,289 379.3,297.8 Q370.4,299.6 361.2,297.8 Z" fill="url(#tipC)"/>
<ellipse cx="369.8" cy="287.4" rx="2.6" ry="1.1" fill="#c08484" opacity="0.8"/>
<!-- ring -->
<path d="M353.8,384 C353.8,377 361,373 371,373 C381,373 388.2,377 388.2,384 C388.2,391 381,395.5 371,395.5 C361,395.5 353.8,391 353.8,384 Z M358,382.5 C358,386.5 364,389.5 371.2,389.5 C378.4,389.5 384,386.5 384,382.5 C384,379 378.4,376.5 371.2,376.5 C364,376.5 358,379 358,382.5 Z" fill="#b01c1c" fill-rule="evenodd"/>
<path d="M358.5,382.5 C358.5,386.2 364,389 371.2,389 C378.4,389 383.5,386.2 383.5,382.5 C383.5,379.2 378.4,377 371.2,377 C364,377 358.5,379.2 358.5,382.5 Z" fill="#e6e2de"/>
<path d="M363,383 C367,381.3 374,381.3 379,383.5" fill="none" stroke="#b8a8a0" stroke-width="1"/>

<!-- Pdpn tab lower-left -->
<path d="M409,410 L420,405.5 L432,413 L431.5,423 L421,424 L410,418 Z" fill="#e6e6e6" stroke="#cccccc" stroke-width="1"/>
<!-- Pdpn base -->
<path d="M421.5,392 C424,388 430,387.3 446,387.3 C460,387.3 468,390 470.4,396 C471,404 466,412 456,416 C446,419 434,418.5 427,415 C423,411 420.5,400 421.5,392 Z" fill="#dfdfdf" stroke="#c8c8c8" stroke-width="1.2"/>
<path d="M424,405 C432,412 452,413 467,404" fill="none" stroke="#ededed" stroke-width="1.8"/>
<!-- Pdpn tube body -->
<path d="M433.5,313 L429.8,334 L429,392 L463.8,392 L463.2,334 L459.5,313 Z" fill="#e2e3e1"/>
<path d="M430.4,336 L430,390" stroke="#f0f0ef" stroke-width="1.6"/>
<path d="M462.6,336 L462.8,390" stroke="#cdcbc9" stroke-width="1.2"/>
<path d="M453.5,352 C455.5,362 456.5,372 454.5,384 C453.5,388 452.5,390 451.5,391" fill="none" stroke="#d8a898" stroke-width="2.2" opacity="0.9"/>
<ellipse cx="446.4" cy="386" rx="17.4" ry="6.8" fill="none" stroke="#c8a8a0" stroke-width="1.5"/>
<!-- gap -->
<path d="M433.2,312 L459.6,312 L460.8,319.5 L431.5,319.5 Z" fill="#eadfda"/>
<!-- red band -->
<path d="M430.7,324 C434,320.5 438,319.3 444,319 C452,318.8 458,319.5 461.4,323 L461.4,334 C460,337 457,336.5 455,334.5 C449,331.5 439,331 430.9,329.5 Z" fill="#d21e12"/>
<path d="M437.5,322.5 C441,320.8 446,320.8 450,322.5" fill="none" stroke="#f0a090" stroke-width="2.4"/>
<!-- tip -->
<path d="M433.8,313.6 C434.4,305 435.8,295 437.8,289 C439.6,284.2 442.8,282.4 446.5,282.4 C450.2,282.4 453.4,284.2 455.2,289 C457.2,295 458.6,305 459.2,313.6 Q446.5,316.2 433.8,313.6 Z" fill="url(#tipP)"/>
<path d="M436,311 C436.5,302 437.8,294 439.8,289" fill="none" stroke="#8a1a1c" stroke-width="1.6" opacity="0.8"/>
</g>
<!-- labels -->
<rect x="309.5" y="446" width="197.5" height="20.5" fill="#ffffff" opacity="0.045"/>
<rect x="309.5" y="466.5" width="197.5" height="3.5" fill="#000" opacity="0.02"/>
<text transform="translate(350,460.9) scale(1.06,1)" font-size="16.2" font-weight="bold" stroke="#000" stroke-width="0.35">Ctrl</text>
<text transform="translate(419.5,460.6) scale(1.08,1)" font-size="16.2" font-weight="bold" stroke="#000" stroke-width="0.35">Pdpn</text>
</g>

</g>
</svg>
</body></html>
